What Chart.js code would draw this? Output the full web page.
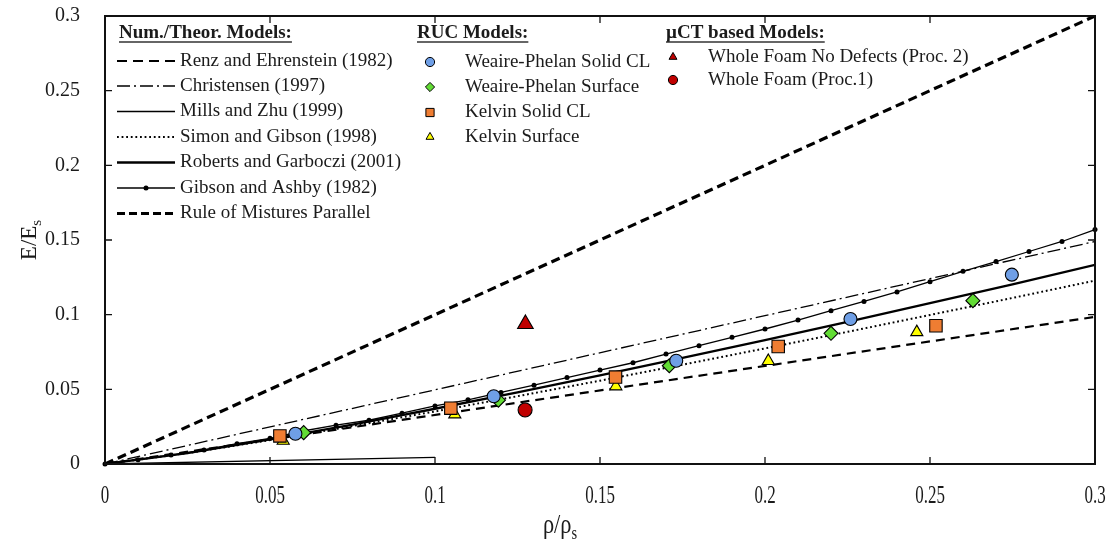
<!DOCTYPE html>
<html>
<head>
<meta charset="utf-8">
<title>E/Es versus relative density</title>
<script src="https://cdn.jsdelivr.net/npm/chart.js@4.4.1/dist/chart.umd.min.js"></script>
<style>
  html, body { margin: 0; padding: 0; background: #ffffff; }
  #wrap { width: 1111px; height: 549px; }
</style>
</head>
<body>
<div id="wrap"><canvas id="chart" width="1111" height="549"></canvas></div>
<script>
// ---- Axis ticks ----
const tickValues = [0, 0.05, 0.1, 0.15, 0.2, 0.25, 0.3];
const tickLabels = ['0', '0.05', '0.1', '0.15', '0.2', '0.25', '0.3'];

// ---- Numerical / theoretical models ----
const renzX = [0, 0.3];
const renzY = [0, 0.0985];

const christensenX = [0, 0.3];
const christensenY = [0, 0.149];

const millsX = [0, 0.1];
const millsY = [0, 0.0045];

const simonX = [0, 0.025, 0.05, 0.075, 0.1, 0.125, 0.15, 0.175, 0.2, 0.225, 0.25, 0.275, 0.3];
const simonY = [0, 0.0073, 0.0160, 0.0254, 0.0352, 0.0454, 0.0558, 0.0665, 0.0774, 0.0885, 0.0998, 0.1112, 0.1228];

const robertsX = [0, 0.025, 0.05, 0.075, 0.1, 0.125, 0.15, 0.175, 0.2, 0.225, 0.25, 0.275, 0.3];
const robertsY = [0, 0.0073, 0.0165, 0.0264, 0.0370, 0.0480, 0.0593, 0.0710, 0.0830, 0.0952, 0.1077, 0.1203, 0.1333];

const gibsonX = [0, 0.01, 0.02, 0.03, 0.04, 0.05, 0.06, 0.07, 0.08, 0.09, 0.1,
                 0.11, 0.12, 0.13, 0.14, 0.15, 0.16, 0.17, 0.18, 0.19, 0.2,
                 0.21, 0.22, 0.23, 0.24, 0.25, 0.26, 0.27, 0.28, 0.29, 0.3];
const gibsonY = [0, 0.0029, 0.0060, 0.0094, 0.0136, 0.0172, 0.0221, 0.0260, 0.0293, 0.0340, 0.0389,
                 0.0430, 0.0479, 0.0528, 0.0579, 0.0629, 0.0678, 0.0736, 0.0792, 0.0848, 0.0904,
                 0.0964, 0.1027, 0.1089, 0.1152, 0.1221, 0.1290, 0.1356, 0.1423, 0.1490, 0.1570];

const mixturesX = [0, 0.3];
const mixturesY = [0, 0.3];

// ---- RUC models ----
const wpSolidX = [0.0577, 0.1178, 0.1731, 0.2259, 0.2748];
const wpSolidY = [0.0203, 0.0454, 0.0691, 0.0971, 0.1268];

const wpSurfaceX = [0.0602, 0.1192, 0.1710, 0.2200, 0.2630];
const wpSurfaceY = [0.0210, 0.0427, 0.0658, 0.0875, 0.1094];

const kelvinSolidX = [0.0530, 0.1048, 0.1547, 0.2040, 0.2518];
const kelvinSolidY = [0.0188, 0.0374, 0.0582, 0.0787, 0.0926];

const kelvinSurfaceX = [0.0540, 0.1060, 0.1548, 0.2010, 0.2460];
const kelvinSurfaceY = [0.0156, 0.0332, 0.0520, 0.0690, 0.0883];

// ---- µCT based models ----
const foamNoDefectsX = [0.1274];
const foamNoDefectsY = [0.0938];

const foamProc1X = [0.1273];
const foamProc1Y = [0.0362];

// ---- Styling ----
const FONT = '"Liberation Serif", "Times New Roman", serif';
const TEXT = '#1b1b1b';
const BLUE = '#6f9fe6';
const GREEN = '#62dc34';
const ORANGE = '#ef7d32';
const YELLOW = '#ffff00';
const RED = '#c00000';

const toPoints = (xs, ys) => xs.map((x, i) => ({ x: x, y: ys[i] }));

function lineSet(label, xs, ys, style) {
  return Object.assign({
    label: label,
    data: toPoints(xs, ys),
    showLine: true,
    pointRadius: 0,
    pointHoverRadius: 0,
    borderColor: '#000000',
    backgroundColor: '#000000',
    borderWidth: 1.3,
    borderCapStyle: 'butt',
    tension: 0,
    fill: false,
    order: 10
  }, style);
}

function markerSet(label, xs, ys, shape, radius, color) {
  return {
    label: label,
    data: toPoints(xs, ys),
    showLine: false,
    pointStyle: shape,
    pointRadius: radius,
    pointHoverRadius: radius,
    backgroundColor: color,
    borderColor: '#000000',
    borderWidth: 1.1,
    order: 1,
    clip: false
  };
}

const datasets = [
  lineSet('Renz and Ehrenstein (1982)', renzX, renzY, { borderWidth: 2.2, borderDash: [9, 6] }),
  lineSet('Christensen (1997)', christensenX, christensenY, { borderWidth: 1.3, borderDash: [13, 4, 2, 4] }),
  lineSet('Mills and Zhu (1999)', millsX, millsY, { borderWidth: 1.3 }),
  lineSet('Simon and Gibson (1998)', simonX, simonY, { borderWidth: 2, borderDash: [1.8, 2.8] }),
  lineSet('Roberts and Garboczi (2001)', robertsX, robertsY, { borderWidth: 2.3 }),
  lineSet('Gibson and Ashby (1982)', gibsonX, gibsonY, { borderWidth: 1.3, pointRadius: 2.5, pointBorderWidth: 0, pointBackgroundColor: '#000000', clip: 4 }),
  lineSet('Rule of Mistures Parallel', mixturesX, mixturesY, { borderWidth: 3.2, borderDash: [9, 5] }),
  markerSet('Weaire-Phelan Solid CL', wpSolidX, wpSolidY, 'circle', 6.5, BLUE),
  markerSet('Weaire-Phelan Surface', wpSurfaceX, wpSurfaceY, 'rectRot', 7, GREEN),
  markerSet('Kelvin Solid CL', kelvinSolidX, kelvinSolidY, 'rect', 8.8, ORANGE),
  markerSet('Kelvin Surface', kelvinSurfaceX, kelvinSurfaceY, 'triangle', 7, YELLOW),
  markerSet('Whole Foam No Defects (Proc. 2)', foamNoDefectsX, foamNoDefectsY, 'triangle', 9, RED),
  markerSet('Whole Foam (Proc.1)', foamProc1X, foamProc1Y, 'circle', 7, RED)
];

// ---- Legend layout: three columns with underlined headings ----
const legendColumns = [
  { title: 'Num./Theor. Models:', titleX: 119, textX: 180, sampleX: [117, 175],
    rows: [61, 86, 111.5, 137, 162.5, 188, 213.5], items: [0, 1, 2, 3, 4, 5, 6] },
  { title: 'RUC Models:', titleX: 417, textX: 465, markerX: 430,
    rows: [62, 87, 112.5, 137], items: [7, 8, 9, 10] },
  { title: '\u00b5CT based Models:', titleX: 666, textX: 708, markerX: 673,
    rows: [57, 80], items: [11, 12] }
];
const legendTitleY = 33;

function drawMarker(ctx, ds, x, y, r) {
  ctx.save();
  ctx.fillStyle = ds.backgroundColor;
  ctx.strokeStyle = '#000000';
  ctx.lineWidth = 1;
  Chart.helpers.drawPoint(ctx, { pointStyle: ds.pointStyle, rotation: 0, radius: r, borderWidth: 1 }, x, y);
  ctx.restore();
}

const framePlugin = {
  id: 'frameAndLabels',
  afterDraw(chart) {
    const ctx = chart.ctx;
    const a = chart.chartArea;
    const xs = chart.scales.x;
    const ys = chart.scales.y;

    ctx.save();
    // plot frame
    ctx.strokeStyle = '#111111';
    ctx.lineWidth = 2;
    ctx.setLineDash([]);
    ctx.strokeRect(a.left, a.top, a.right - a.left, a.bottom - a.top);

    // inward tick marks on all four sides
    ctx.lineWidth = 1.3;
    const tl = 7;
    tickValues.forEach(v => {
      const px = xs.getPixelForValue(v);
      const py = ys.getPixelForValue(v);
      ctx.beginPath();
      ctx.moveTo(px, a.bottom); ctx.lineTo(px, a.bottom - tl);
      ctx.moveTo(px, a.top); ctx.lineTo(px, a.top + tl);
      ctx.moveTo(a.left, py); ctx.lineTo(a.left + tl, py);
      ctx.moveTo(a.right, py); ctx.lineTo(a.right - tl, py);
      ctx.stroke();
    });

    // tick labels
    ctx.fillStyle = TEXT;
    ctx.font = '20px ' + FONT;
    ctx.textBaseline = 'middle';
    ctx.textAlign = 'right';
    tickValues.forEach((v, i) => {
      ctx.fillText(tickLabels[i], 80, ys.getPixelForValue(v));
    });
    ctx.textAlign = 'center';
    ctx.font = '25px ' + FONT;
    tickValues.forEach((v, i) => {
      const px = xs.getPixelForValue(v);
      ctx.save();
      ctx.translate(px, 496);
      ctx.scale(0.68, 1);
      ctx.fillText(tickLabels[i], 0, 0);
      ctx.restore();
    });

    // axis titles with subscripts
    function subTitle(main, sub, size) {
      ctx.font = size + 'px ' + FONT;
      const w1 = ctx.measureText(main).width;
      ctx.font = Math.round(size * 0.65) + 'px ' + FONT;
      const w2 = ctx.measureText(sub).width;
      const total = w1 + w2;
      ctx.font = size + 'px ' + FONT;
      ctx.textAlign = 'left';
      ctx.fillText(main, -total / 2, 0);
      ctx.font = Math.round(size * 0.65) + 'px ' + FONT;
      ctx.fillText(sub, -total / 2 + w1, size * 0.3);
    }
    ctx.save();
    ctx.translate(30, 240);
    ctx.rotate(-Math.PI / 2);
    subTitle('E/E', 's', 23);
    ctx.restore();

    ctx.save();
    ctx.translate(560, 526);
    ctx.scale(0.8, 1);
    subTitle('\u03c1/\u03c1', 's', 28);
    ctx.restore();

    // legend
    legendColumns.forEach(col => {
      ctx.font = 'bold 19px ' + FONT;
      ctx.textAlign = 'left';
      ctx.fillStyle = TEXT;
      ctx.fillText(col.title, col.titleX, legendTitleY);
      const tw = ctx.measureText(col.title).width;
      ctx.strokeStyle = '#333333';
      ctx.lineWidth = 1.3;
      ctx.setLineDash([]);
      ctx.beginPath();
      ctx.moveTo(col.titleX, legendTitleY + 9);
      ctx.lineTo(col.titleX + tw, legendTitleY + 9);
      ctx.stroke();

      col.items.forEach((idx, k) => {
        const ds = chart.data.datasets[idx];
        const y = col.rows[k];
        if (col.sampleX) {
          ctx.save();
          ctx.strokeStyle = '#000000';
          ctx.lineWidth = ds.borderWidth;
          ctx.lineCap = 'butt';
          let dash = ds.borderDash || [];
          if (idx === 0) dash = [10, 6];
          if (idx === 6) dash = [8, 4];
          ctx.setLineDash(dash);
          ctx.beginPath();
          ctx.moveTo(col.sampleX[0], y);
          ctx.lineTo(col.sampleX[1], y);
          ctx.stroke();
          if (ds.pointRadius > 0) {
            ctx.setLineDash([]);
            ctx.fillStyle = '#000000';
            ctx.beginPath();
            ctx.arc((col.sampleX[0] + col.sampleX[1]) / 2, y, ds.pointRadius, 0, Math.PI * 2);
            ctx.fill();
          }
          ctx.restore();
        } else {
          drawMarker(ctx, ds, col.markerX, y, ds.pointStyle === 'rect' ? 5.8 : 4.6);
        }
        ctx.font = '19px ' + FONT;
        ctx.fillStyle = TEXT;
        ctx.textAlign = 'left';
        ctx.textBaseline = 'middle';
        ctx.fillText(ds.label, col.textX, y);
      });
    });
    ctx.restore();
  }
};

new Chart(document.getElementById('chart'), {
  type: 'scatter',
  data: { datasets: datasets },
  options: {
    responsive: false,
    animation: false,
    devicePixelRatio: 1,
    layout: { padding: { top: 16, right: 16, left: 0, bottom: 0 } },
    plugins: { legend: { display: false }, tooltip: { enabled: false } },
    events: [],
    scales: {
      x: {
        type: 'linear', min: 0, max: 0.3,
        grid: { display: false }, border: { display: false },
        ticks: { display: false },
        afterBuildTicks: s => { s.ticks = tickValues.map(v => ({ value: v })); },
        afterFit: s => { s.height = 85; }
      },
      y: {
        type: 'linear', min: 0, max: 0.3,
        grid: { display: false }, border: { display: false },
        ticks: { display: false },
        afterBuildTicks: s => { s.ticks = tickValues.map(v => ({ value: v })); },
        afterFit: s => { s.width = 105; }
      }
    }
  },
  plugins: [framePlugin]
});
</script>
</body>
</html>
